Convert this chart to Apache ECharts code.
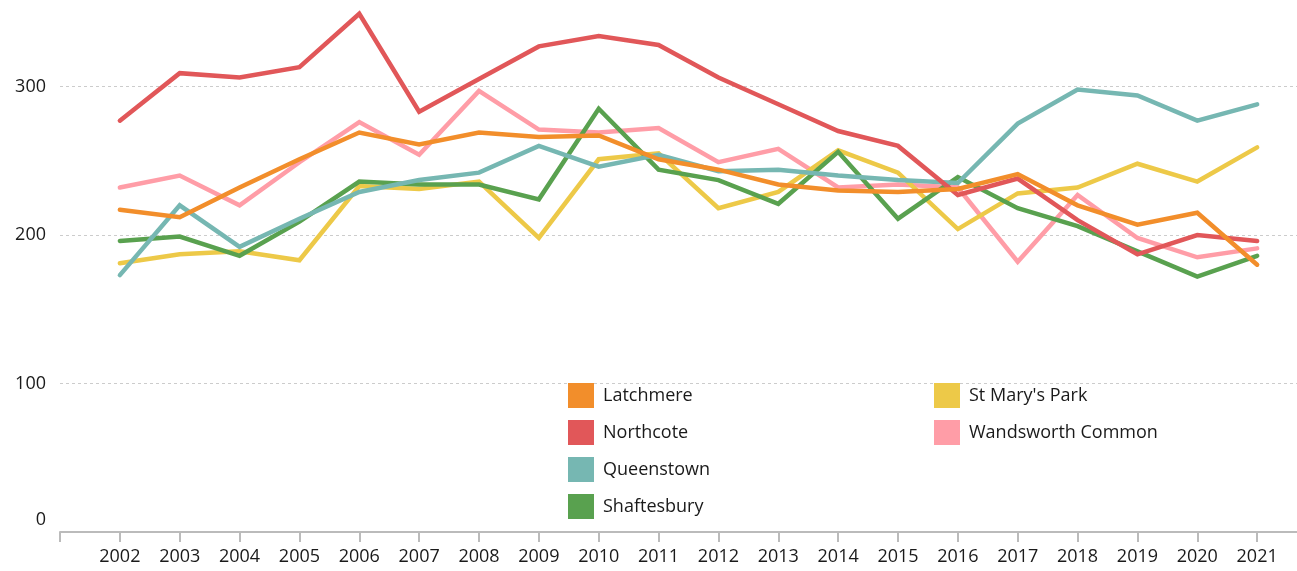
<!DOCTYPE html>
<html>
<head>
<meta charset="utf-8">
<title>Wards</title>
<script src="https://cdn.jsdelivr.net/npm/echarts@6.0.0/dist/echarts.min.js"></script>
<style>
  html, body { margin: 0; padding: 0; background: #fff; }
  #main { width: 1297px; height: 571px; }
</style>
</head>
<body>
<div id="main"></div>
<script>
let years = [2002, 2003, 2004, 2005, 2006, 2007, 2008, 2009, 2010, 2011,
  2012, 2013, 2014, 2015, 2016, 2017, 2018, 2019, 2020, 2021]

let latchmere = [217, 212, 232, 251, 269, 261, 269, 266, 267, 251, 244, 234, 230, 229, 231, 241, 220, 207, 215, 180]
let northcote = [277, 309, 306, 313, 349, 283, 305, 327, 334, 328, 306, 288, 270, 260, 227, 238, 210, 187, 200, 196]
let queenstown = [173, 220, 192, 211, 229, 237, 242, 260, 246, 254, 243, 244, 240, 237, 235, 275, 298, 294, 277, 288]
let shaftesbury = [196, 199, 186, 209, 236, 234, 234, 224, 285, 244, 237, 221, 256, 211, 239, 218, 206, 189, 172, 186]
let stMarysPark = [181, 187, 189, 183, 233, 231, 236, 198, 251, 255, 218, 229, 257, 242, 204, 228, 232, 248, 236, 259]
let wandsworthCommon = [232, 240, 220, 249, 276, 254, 297, 271, 269, 272, 249, 258, 232, 234, 232, 182, 227, 198, 185, 191]

let yTicks = [0, 100, 200, 300]

let font = 'Open Sans'
let textColor = '#1a1a1a'

let wards = [
  {name: 'Latchmere', color: '#F28E2B', values: latchmere},
  {name: 'Northcote', color: '#E15759', values: northcote},
  {name: 'Queenstown', color: '#76B7B2', values: queenstown},
  {name: 'Shaftesbury', color: '#59A14F', values: shaftesbury},
  {name: "St Mary's Park", color: '#EDC948', values: stMarysPark},
  {name: 'Wandsworth Common', color: '#FF9DA7', values: wandsworthCommon}
]

// draw later wards first so Latchmere ends up on top
let series = wards.slice().reverse().map(w => ({
  name: w.name,
  type: 'line',
  showSymbol: false,
  symbol: 'none',
  color: w.color,
  lineStyle: {width: 4.5, color: w.color, join: 'miter', cap: 'round'},
  data: years.map((y, i) => [y, w.values[i]])
}))

let legendBase = {
  orient: 'vertical',
  top: 383,
  padding: 0,
  itemWidth: 26,
  itemHeight: 25,
  itemGap: 12,
  icon: 'rect',
  textStyle: {fontFamily: font, fontSize: 18, color: textColor, padding: [4, 0, 0, 4]}
}

let myChart = echarts.init(document.getElementById('main'))
let option = {
  animation: false,
  backgroundColor: '#fff',
  // grid reaches past the canvas so the 400 line and the 2022 tick stay hidden
  grid: {
    left: 60,
    right: -20,
    top: -62,
    bottom: 39,
    outerBoundsMode: 'none',
    containLabel: false
  },
  legend: [
    Object.assign({}, legendBase, {left: 568, data: wards.slice(0, 4).map(w => w.name)}),
    Object.assign({}, legendBase, {left: 934, data: wards.slice(4).map(w => w.name)})
  ],
  xAxis: {
    type: 'value',
    min: 2001,
    max: 2022,
    interval: 1,
    axisLine: {show: true, lineStyle: {color: '#bbb', width: 2}},
    axisTick: {show: true, length: 10, lineStyle: {color: '#bbb', width: 2}},
    splitLine: {show: false},
    axisLabel: {
      fontFamily: font,
      fontSize: 18,
      color: textColor,
      margin: 16,
      formatter: v => years.indexOf(v) >= 0 ? String(v) : ''
    }
  },
  yAxis: {
    type: 'value',
    min: 0,
    max: 400,
    interval: 100,
    axisLine: {show: false},
    axisTick: {show: false},
    splitLine: {lineStyle: {color: '#ccc', type: [3, 3], width: 1}},
    axisLabel: {
      fontFamily: font,
      fontSize: 18,
      color: textColor,
      margin: 14,
      formatter: v => {
        if (yTicks.indexOf(v) < 0) return ''
        return v === 0 ? '{zero|0}' : String(v)
      },
      rich: {
        zero: {fontFamily: font, fontSize: 18, color: textColor, padding: [0, 0, 24, 0]}
      }
    }
  },
  series: series
}
myChart.setOption(option)
</script>
</body>
</html>
